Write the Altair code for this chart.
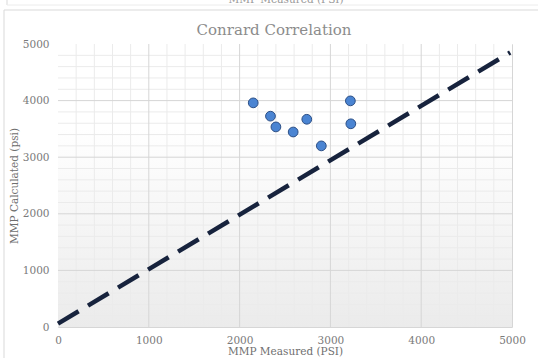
import altair as alt
import pandas as pd

# ---- data ----
measured = [2150, 2340, 2400, 2590, 2740, 2900, 3220, 3225]
calculated = [3960, 3725, 3535, 3445, 3670, 3200, 3995, 3590]

# dashed reference trend line (end points)
line_x = [0, 4980]
line_y = [60, 4850]

tick_values = [0, 1000, 2000, 3000, 4000, 5000]
minor_values = [v for v in range(0, 5001, 200) if v % 1000 != 0]
major_inner = [1000, 2000, 3000, 4000]

W, H = 454, 283
FONT = "DejaVu Serif"
LABEL_C = "#7a7a7a"
TITLE_C = "#6f6f6f"

xs = alt.Scale(domain=[0, 5000], nice=False, zero=True)
ys = alt.Scale(domain=[0, 5000], nice=False, zero=True)

x_axis = alt.Axis(values=tick_values, format="d", grid=False, domain=False, ticks=False,
                  tickSize=0, labelPadding=8, titlePadding=1,
                  labelFont=FONT, labelFontSize=10.5, labelColor=LABEL_C,
                  titleFont=FONT, titleFontSize=10.5, titleColor=TITLE_C,
                  titleFontWeight="normal", labelFlush=False, labelOverlap=False)
y_axis = alt.Axis(values=tick_values, format="d", grid=False, domain=False, ticks=False,
                  tickSize=0, labelPadding=9, titlePadding=3,
                  labelFont=FONT, labelFontSize=10.5, labelColor=LABEL_C,
                  titleFont=FONT, titleFontSize=10.5, titleColor=TITLE_C,
                  titleFontWeight="normal", labelFlush=False, labelOverlap=False)
X_TITLE = "MMP Measured (PSI)"
Y_TITLE = "MMP Calculated (psi)"


def X(field):
    return alt.X(field, scale=xs, axis=x_axis, title=X_TITLE)


def Y(field):
    return alt.Y(field, scale=ys, axis=y_axis, title=Y_TITLE)


pts = pd.DataFrame({"measured": measured, "calculated": calculated})
ln = pd.DataFrame({"x": line_x, "y": line_y})
bg = pd.DataFrame({"x0": [0], "x1": [5000], "y0": [0], "y1": [5000]})
minor_df = pd.DataFrame({"v": minor_values})
major_df = pd.DataFrame({"v": major_inner})

background = alt.Chart(bg).mark_rect(
    color=alt.Gradient(
        gradient="linear",
        stops=[alt.GradientStop(color="#ffffff", offset=0),
               alt.GradientStop(color="#ffffff", offset=0.3),
               alt.GradientStop(color="#ebebeb", offset=1)],
        x1=0, x2=0, y1=0, y2=1,
    )
).encode(x=X("x0:Q"), x2="x1:Q", y=Y("y0:Q"), y2="y1:Q")

minor_v = alt.Chart(minor_df).mark_rule(color="#ebebeb", strokeWidth=1).encode(x=X("v:Q"))
minor_h = alt.Chart(minor_df).mark_rule(color="#ebebeb", strokeWidth=1).encode(y=Y("v:Q"))
major_v = alt.Chart(major_df).mark_rule(color="#d6d6d6", strokeWidth=1).encode(x=X("v:Q"))
major_h = alt.Chart(major_df).mark_rule(color="#d6d6d6", strokeWidth=1).encode(y=Y("v:Q"))

dashed = alt.Chart(ln).mark_line(
    color="#17233d", strokeWidth=4.5, strokeDash=[24, 11], strokeCap="butt"
).encode(x=X("x:Q"), y=Y("y:Q"))

points = alt.Chart(pts).mark_point(
    shape="circle", filled=True, size=95, fill="#4a84d2", stroke="#2c4f86",
    strokeWidth=1, opacity=1
).encode(x=X("measured:Q"), y=Y("calculated:Q"))

# chart title drawn as text above the plot area
title = alt.Chart(pd.DataFrame({"t": ["Conrard Correlation"]})).mark_text(
    font=FONT, fontSize=15, color="#8c8c8c", baseline="middle", align="center"
).encode(text="t:N", x=alt.value(216), y=alt.value(-14))

# outer chart-area frame (decoration)
frame_left = alt.Chart(pd.DataFrame({"a": [0]})).mark_rule(color="#d9d9d9").encode(
    x=alt.value(-54), y=alt.value(-34), y2=alt.value(400))
frame_top = alt.Chart(pd.DataFrame({"a": [0]})).mark_rule(color="#d9d9d9").encode(
    x=alt.value(-54), x2=alt.value(600), y=alt.value(-34))
# fragment of the chart above (cropped)
frag_left = alt.Chart(pd.DataFrame({"a": [0]})).mark_rule(color="#d9d9d9").encode(
    x=alt.value(-51), y=alt.value(-60), y2=alt.value(-39))
frag_bottom = alt.Chart(pd.DataFrame({"a": [0]})).mark_rule(color="#ececec").encode(
    x=alt.value(-51), x2=alt.value(600), y=alt.value(-39))
frag_text = alt.Chart(pd.DataFrame({"t": ["MMP Measured (PSI)"]})).mark_text(
    font=FONT, fontSize=10.5, color="#9a9a9a", baseline="alphabetic", align="center"
).encode(text="t:N", x=alt.value(228), y=alt.value(-41))

chart = alt.layer(
    background, minor_v, minor_h, major_v, major_h, dashed, points,
    title, frame_left, frame_top, frag_left, frag_bottom, frag_text
).properties(
    width=W, height=H,
    autosize=alt.AutoSizeParams(type="none"),
    padding={"left": 58, "top": 44, "right": 26, "bottom": 31},
    background="#ffffff",
).configure_view(stroke="#d6d6d6", strokeWidth=1)

chart.save("out.html", embed_options={"renderer": "svg", "actions": False})
